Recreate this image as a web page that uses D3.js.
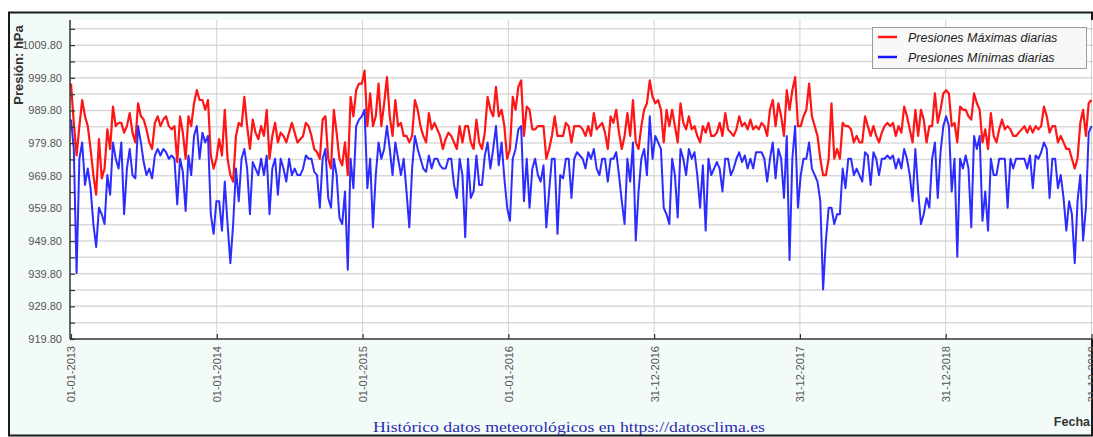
<!DOCTYPE html>
<html><head><meta charset="utf-8">
<script src="https://cdn.jsdelivr.net/npm/d3@7"></script>
<style>body{margin:0;background:#fff;} svg{display:block;}</style>
</head><body><svg id="c" width="1093" height="437"></svg>
<script>
// Weekly samples (every 7 days from 01-01-2013), hPa
const max2013=[998,986,976,985,993,988,985,978,970,964,981,969,972,984,978,991,985,986,986,983,985,989,983,980,992,988,987,984,980,978,986,988,985,987,988,985,984,985,974,988,983,975,988,985,992,996,993,993,990,993,976,972,975];
const min2013=[987,978,940,975,980,967,972,966,955,948,960,958,955,970,964,980,975,972,980,958,972,978,970,969,985,980,974,970,972,969,976,978,976,978,977,975,976,975,961,975,971,959,976,970,982,985,975,983,980,982,958,952,962];
const max2014=[981,976,990,975,970,968,982,986,985,994,985,978,987,983,981,985,982,990,975,982,986,980,983,982,980,983,986,983,980,981,982,986,985,982,978,977,975,987,988,975,972,990,983,975,973,980,970,994,988,996,998,998];
const min2014=[962,953,968,955,943,955,972,962,975,978,972,958,974,972,970,975,970,976,958,972,975,964,975,972,968,975,970,972,970,970,972,976,975,975,971,970,960,975,978,963,960,975,970,957,955,965,941,975,966,985,987,988];
const max2015=[1002,985,995,985,988,998,985,992,1000,988,982,993,985,986,982,982,980,982,993,990,985,982,980,989,984,986,984,982,978,981,983,982,980,978,985,980,985,985,980,978,987,980,978,983,994,990,988,997,988,990,985,975];
const min2015=[990,966,975,954,970,980,975,978,985,978,970,980,975,970,975,965,954,972,982,978,975,972,971,976,972,975,975,973,972,972,975,975,967,963,975,970,951,975,963,965,976,967,967,976,980,972,978,985,973,980,969,960];
const max2016=[978,994,990,997,999,982,991,990,984,984,985,985,985,975,978,982,988,982,982,982,986,985,980,985,985,985,984,982,985,982,989,984,985,986,983,978,988,986,990,983,978,982,989,982,993,980,978,985,990,992,999,994];
const min2016=[956,975,978,984,985,962,975,960,972,975,970,968,973,954,965,975,975,952,970,969,975,975,963,975,977,976,975,972,977,975,978,972,970,975,975,968,975,975,977,970,962,955,975,968,980,950,965,975,978,970,988,975];
const max2017=[992,993,990,980,990,985,990,985,980,992,986,984,988,984,985,982,980,985,983,986,982,982,983,986,982,989,984,983,982,984,988,985,986,984,987,984,985,984,986,985,982,990,993,985,992,988,982,996,990,996,1000,985];
const min2017=[982,980,978,960,958,955,975,970,957,978,975,970,978,975,977,970,960,973,953,975,970,972,974,972,965,975,975,970,972,975,977,974,976,972,975,972,977,977,977,975,968,975,980,969,978,975,963,982,944,975,985,960];
const max2018=[985,988,990,998,988,985,982,975,970,970,975,992,975,978,975,986,985,985,984,980,982,980,980,988,985,982,985,982,980,983,985,986,985,986,982,985,983,991,988,984,980,990,982,990,987,980,985,985,995,986,990,995];
const min2018=[970,975,975,980,972,970,968,962,935,950,960,960,955,958,958,972,966,975,975,970,972,970,968,977,976,967,977,975,970,975,975,976,975,976,972,975,972,978,975,970,962,978,965,955,958,963,960,975,980,963,977,985];
const max2019=[996,995,985,986,980,991,990,990,988,987,995,992,990,980,984,978,989,982,980,984,987,984,985,984,982,982,983,984,985,983,985,983,985,984,985,991,988,983,985,985,980,982,980,978,978,975,972,975,986,990,982,992,993];
const min2019=[988,985,965,975,945,975,972,976,972,954,982,978,982,956,965,953,975,970,970,975,975,975,960,975,972,975,975,975,975,972,976,966,976,975,977,980,978,963,975,975,966,970,963,953,962,958,943,962,970,950,960,983,985];

const startLabel="01-01-2013";
const endLabel="31-12-2019";
const xTickLabels=["01-01-2013","01-01-2014","01-01-2015","01-01-2016","31-12-2016","31-12-2017","31-12-2018","31-12-2019"];
const yTickValues=[919.8,929.8,939.8,949.8,959.8,969.8,979.8,989.8,999.8,1009.8];
const yGridValues=[919.8,924.8,929.8,934.8,939.8,944.8,949.8,954.8,959.8,964.8,969.8,974.8,979.8,984.8,989.8,994.8,999.8,1004.8,1009.8,1014.8];
const seriesNames=["Presiones Máximas diarias","Presiones Mínimas diarias"];
const seriesColors=["#ff1515","#1515ff"];

const parse=d3.timeParse("%d-%m-%Y");
const fmt=d3.timeFormat("%d-%m-%Y");
const start=parse(startLabel);
const maxVals=[].concat(max2013,max2014,max2015,max2016,max2017,max2018,max2019);
const minVals=[].concat(min2013,min2014,min2015,min2016,min2017,min2018,min2019);
const toPts=vals=>vals.map((v,i)=>({date:d3.timeDay.offset(start,7*i),v}));
const seriesData=[toPts(maxVals),toPts(minVals)];

const svg=d3.select("#c");
const L=70,R=1093,T=20,B=339;
const x=d3.scaleTime().domain([start,parse(endLabel)]).range([71,1091.5]);
const y=d3.scaleLinear().domain([919.8,1017.5]).range([B,T]);

// outer frame
svg.append("rect").attr("x",9).attr("y",12.5).attr("width",1083).attr("height",423)
  .attr("fill","#f3fbf8").attr("stroke","#1a1a1a").attr("stroke-width",2);
// plot area
svg.append("rect").attr("x",L).attr("y",T).attr("width",R-L).attr("height",B-T).attr("fill","#fff");

svg.append("defs").append("clipPath").attr("id","clip").append("rect")
  .attr("x",L).attr("y",T).attr("width",R-L).attr("height",B-T);

// horizontal grid
svg.append("g").selectAll("line").data(yGridValues.filter(v=>v>919.9)).join("line")
  .attr("x1",L).attr("x2",R).attr("y1",d=>y(d)).attr("y2",d=>y(d))
  .attr("stroke","#dadada").attr("stroke-width",1.5);
// vertical grid
const xTicks=xTickLabels.map(parse);
svg.append("g").selectAll("line").data(xTicks.slice(1)).join("line")
  .attr("x1",d=>x(d)).attr("x2",d=>x(d)).attr("y1",T).attr("y2",B)
  .attr("stroke","#d2d2d2").attr("stroke-width",1);

// series
const line=d3.line().x(d=>x(d.date)).y(d=>y(d.v));
const gl=svg.append("g").attr("clip-path","url(#clip)");
const widths=[2.2,2.0];
seriesData.forEach((s,i)=>{
  gl.append("path").datum(s).attr("d",line).attr("fill","none")
    .attr("stroke",seriesColors[i]).attr("stroke-width",widths[i]).attr("stroke-linejoin","round")
    .attr("stroke-opacity",i===1?0.9:1);
});

// y axis
const yAxis=d3.axisLeft(y).tickValues(yGridValues).tickSize(-5).tickFormat(d=>yTickValues.includes(d)?d3.format(".2f")(d):"");
const gy=svg.append("g").attr("transform",`translate(${L},0)`).call(yAxis);
gy.select(".domain").attr("d",`M0,${T}V${B}`).attr("stroke","#333").attr("stroke-width",1.5);
gy.selectAll(".tick line").attr("stroke","#333").attr("stroke-width",1.2);
gy.selectAll(".tick text").attr("x",-8).attr("fill","#555").style("font","11px 'Liberation Sans', Arial, sans-serif");

// x axis
const xAxis=d3.axisBottom(x).tickValues(xTicks).tickSize(-5).tickFormat(fmt);
const gx=svg.append("g").attr("transform",`translate(0,${B})`).call(xAxis);
gx.select(".domain").attr("d",`M${L},0H${R}`).attr("stroke","#333").attr("stroke-width",1.5);
gx.selectAll(".tick line").attr("stroke","#333").attr("stroke-width",1.2);
gx.selectAll(".tick text").attr("transform","rotate(-90)").attr("x",-7).attr("y",0).attr("dy","0.35em")
  .attr("text-anchor","end").attr("fill","#555").style("font","11px 'Liberation Sans', Arial, sans-serif");

// axis titles
svg.append("text").attr("transform","translate(23,65) rotate(-90)").attr("text-anchor","middle")
  .style("font","bold 13px 'Liberation Sans', Arial, sans-serif").attr("fill","#333").text("Presión: hPa");
svg.append("text").attr("x",1090).attr("y",426).attr("text-anchor","end")
  .style("font","bold 12.5px 'Liberation Sans', Arial, sans-serif").attr("fill","#333").text("Fecha");
svg.append("text").attr("x",569).attr("y",432).attr("text-anchor","middle")
  .attr("textLength",392).attr("lengthAdjust","spacingAndGlyphs")
  .style("font","15px 'Liberation Serif', 'Times New Roman', serif").attr("fill","#2b2bb0")
  .text("Histórico datos meteorológicos en https://datosclima.es");

// legend
const lg=svg.append("g");
lg.append("rect").attr("x",872.5).attr("y",27.5).attr("width",214).attr("height",41)
  .attr("fill","#f8f8f8").attr("stroke","#9a9a9a").attr("stroke-width",1);
seriesNames.forEach((n,i)=>{
  const yy=37+i*20;
  lg.append("line").attr("x1",878).attr("x2",897).attr("y1",yy).attr("y2",yy)
    .attr("stroke",seriesColors[i]).attr("stroke-width",2.5);
  lg.append("text").attr("x",908).attr("y",yy+4.5)
    .style("font","italic 12.5px 'Liberation Sans', Arial, sans-serif").attr("fill","#222").text(n);
});
</script></body></html>
